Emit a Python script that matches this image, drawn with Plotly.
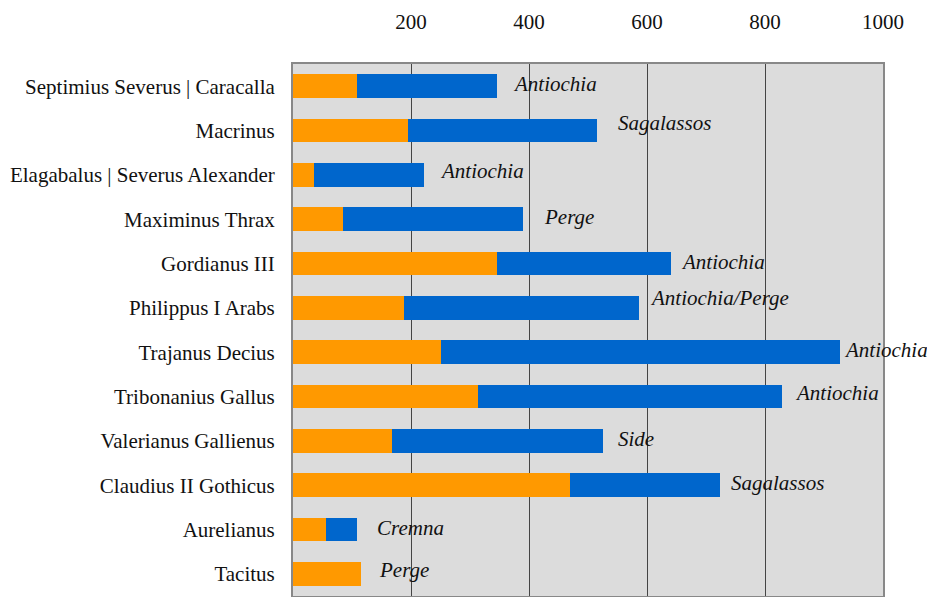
import plotly.graph_objects as go

emperors = ["Septimius Severus | Caracalla", "Macrinus", "Elagabalus | Severus Alexander",
            "Maximinus Thrax", "Gordianus III", "Philippus I Arabs", "Trajanus Decius",
            "Tribonanius Gallus", "Valerianus Gallienus", "Claudius II Gothicus",
            "Aurelianus", "Tacitus"]
orange_vals = [109, 195, 36, 85, 345, 188, 250, 314, 168, 470, 56, 115]
blue_vals = [236, 321, 186, 305, 295, 399, 677, 515, 357, 253, 53, 0]
mints = ["Antiochia", "Sagalassos", "Antiochia", "Perge", "Antiochia", "Antiochia/Perge",
         "Antiochia", "Antiochia", "Side", "Sagalassos", "Cremna", "Perge"]
x_ticks = [200, 400, 600, 800, 1000]

FONT = "Liberation Serif"

fig = go.Figure()
fig.add_trace(go.Bar(y=emperors, x=orange_vals, orientation="h",
                     marker=dict(color="#FF9900", line=dict(width=0)), width=0.54))
fig.add_trace(go.Bar(y=emperors, x=blue_vals, orientation="h",
                     marker=dict(color="#0066CC", line=dict(width=0)), width=0.54))

yshifts = [2, 8, 4, 2, 2, 10, 2, 4, 2, 2, 2, 4]
xshifts = [14, 19, 14, 19, 8, 9, 2, 11, 13, 9, 18, 16]
for emp, o, b, m, ys, xs in zip(emperors, orange_vals, blue_vals, mints, yshifts, xshifts):
    fig.add_annotation(x=o + b, y=emp, text=m, showarrow=False, xanchor="left",
                       xshift=xs, yshift=ys,
                       font=dict(family=FONT, size=21, color="#111111", style="italic"))

fig.update_layout(
    barmode="stack",
    width=935, height=597,
    margin=dict(l=285, r=60, t=56, b=9, autoexpand=False),
    paper_bgcolor="white",
    plot_bgcolor="#DCDCDC",
    showlegend=False,
    font=dict(family=FONT, size=20, color="#111111"),
)
fig.update_xaxes(side="top", range=[0, 1000], tickvals=x_ticks,
                 ticktext=[str(v) for v in x_ticks],
                 showgrid=True, gridcolor="#444444", gridwidth=1,
                 zeroline=False, showline=True, mirror=True,
                 linecolor="#888888", linewidth=2, ticks="", automargin=False,
                 ticklabelstandoff=25, tickfont=dict(size=21))
fig.update_yaxes(autorange="reversed", showgrid=False, zeroline=False,
                 showline=True, mirror=True, linecolor="#888888", linewidth=2,
                 ticks="", automargin=False, ticklabelstandoff=12,
                 tickfont=dict(size=21))

fig.write_html("out.html")
